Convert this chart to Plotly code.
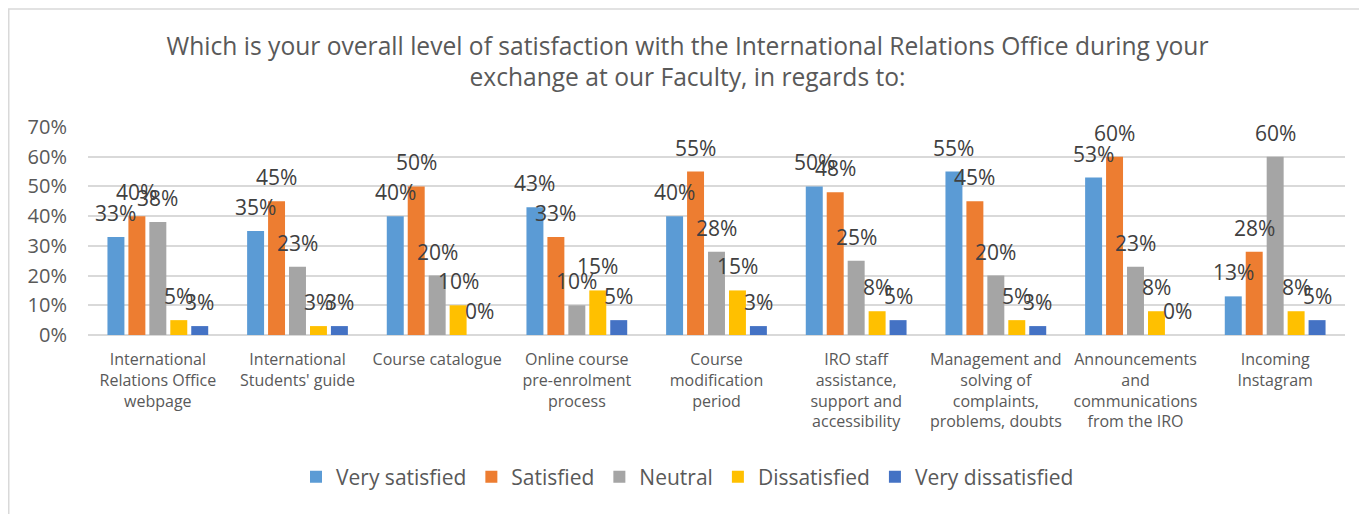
import plotly.graph_objects as go

categories = [
    "International<br>Relations Office<br>webpage",
    "International<br>Students' guide",
    "Course catalogue",
    "Online course<br>pre-enrolment<br>process",
    "Course<br>modification<br>period",
    "IRO staff<br>assistance,<br>support and<br>accessibility",
    "Management and<br>solving of<br>complaints,<br>problems, doubts",
    "Announcements<br>and<br>communications<br>from the IRO",
    "Incoming<br>Instagram",
]
series_names = ["Very satisfied", "Satisfied", "Neutral", "Dissatisfied", "Very dissatisfied"]
very_satisfied = [0.33, 0.35, 0.40, 0.43, 0.40, 0.50, 0.55, 0.53, 0.13]
satisfied = [0.40, 0.45, 0.50, 0.33, 0.55, 0.48, 0.45, 0.60, 0.28]
neutral = [0.38, 0.23, 0.20, 0.10, 0.28, 0.25, 0.20, 0.23, 0.60]
dissatisfied = [0.05, 0.03, 0.10, 0.15, 0.15, 0.08, 0.05, 0.08, 0.08]
very_dissatisfied = [0.03, 0.03, 0.00, 0.05, 0.03, 0.05, 0.03, 0.00, 0.05]
series_values = [very_satisfied, satisfied, neutral, dissatisfied, very_dissatisfied]
colors = ["#5B9BD5", "#ED7D31", "#A5A5A5", "#FFC000", "#4472C4"]

# the page body has an 8px margin, so the figure is drawn at (8, 8)
W, H = 1359, 506
ML, MR, MT, MB = 80, 22, 119, 179
plot_w = W - ML - MR
plot_h = H - MT - MB
n_series = len(series_names)
bargap = 0.25
slot_px = plot_w / len(categories) * (1 - bargap) / n_series

fig = go.Figure()
annotations = []
for i, (name, vals, col) in enumerate(zip(series_names, series_values, colors)):
    fig.add_trace(go.Bar(
        name=name, x=categories, y=vals, marker=dict(color=col, line=dict(width=0)),
    ))
    for cat, v in zip(categories, vals):
        annotations.append(dict(
            x=cat, y=v, xref="x", yref="y", text=f"{round(v*100)}%", showarrow=False,
            xshift=(i - (n_series - 1) / 2) * slot_px, yshift=24,
            yanchor="middle", xanchor="center",
            font=dict(size=21, color="#404040", family="Open Sans"),
        ))

fig.update_layout(
    width=W, height=H,
    margin=dict(l=ML, r=MR, t=MT, b=MB, autoexpand=False),
    paper_bgcolor="white", plot_bgcolor="white",
    barmode="group", bargap=bargap, bargroupgap=0.19,
    font=dict(family="Open Sans", color="#595959"),
    title=dict(
        text="Which is your overall level of satisfaction with the International Relations Office during your<br>exchange at our Faculty, in regards to:",
        x=0.5, xanchor="center", y=1 - 46.5 / H, yanchor="middle",
        font=dict(size=24.6, color="#595959", family="Open Sans"),
    ),
    yaxis=dict(range=[0, 0.7], dtick=0.1, tickformat=".0%", showgrid=True,
               gridcolor="#D9D9D9", gridwidth=1.5, zeroline=True, zerolinecolor="#D9D9D9",
               zerolinewidth=1.5, tickfont=dict(size=20, color="#595959"), ticks="",
               showline=False, ticklabelstandoff=20, automargin=False),
    xaxis=dict(tickfont=dict(size=16, color="#595959"), ticks="", showline=False,
               tickangle=0, automargin=False, ticklabelstandoff=13),
    legend=dict(orientation="h", x=0.5, xanchor="center", xref="container",
                y=1 - 469 / H, yanchor="middle", yref="container",
                font=dict(size=21, color="#595959"), traceorder="normal"),
    annotations=annotations,
    shapes=[dict(type="rect", xref="paper", yref="paper",
                 x0=(0.75 - ML) / plot_w, x1=(1353 - ML) / plot_w,
                 y0=(H - MB - 530) / plot_h, y1=(H - MB - 1) / plot_h,
                 line=dict(color="#D9D9D9", width=1.5), layer="below")],
)
fig.write_html("out.html")
